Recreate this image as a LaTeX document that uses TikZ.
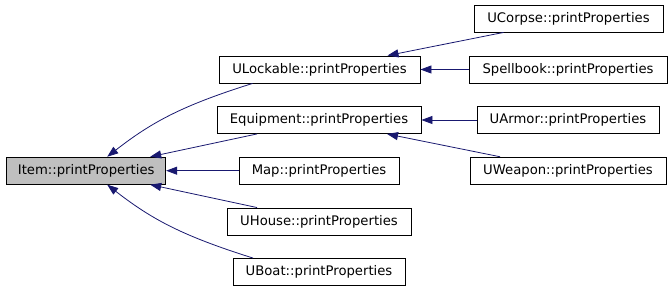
\documentclass[tikz,border=0pt]{standalone}
\usepackage{fontspec}
\setmainfont{DejaVu Sans}
\usetikzlibrary{arrows.meta}

\definecolor{edgeblue}{RGB}{25,25,112}

\begin{document}
\begin{tikzpicture}[
  x=1pt,y=-1pt,
  font=\fontsize{13.2}{15}\selectfont,
  >={Triangle[length=11pt,width=8pt]},
  func/.style={rectangle,draw=black,fill=white,line width=0.9pt,
    minimum height=27pt,inner sep=0pt,align=center},
  base/.style={func,fill=black!25},
  edge/.style={->,line width=0.8pt,edgeblue}
]
\useasboundingbox (0,0) rectangle (672,291);

% Base function
\node[base,minimum width=159pt] (item) at (86.2,170.7) {Item::printProperties};

% Direct overrides
\node[func,minimum width=201pt] (ulock) at (319.5,69.5) {ULockable::printProperties};
\node[func,minimum width=204pt] (equip) at (319,120) {Equipment::printProperties};
\node[func,minimum width=160pt] (map) at (319,170.7) {Map::printProperties};
\node[func,minimum width=184pt] (uhouse) at (319,221.5) {UHouse::printProperties};
\node[func,minimum width=172pt] (uboat) at (319,272) {UBoat::printProperties};

% Second level overrides
\node[func,minimum width=189pt] (ucorpse) at (568.5,18.5) {UCorpse::printProperties};
\node[func,minimum width=198pt] (spell) at (568,69.5) {Spellbook::printProperties};
\node[func,minimum width=182pt] (uarmor) at (568,120) {UArmor::printProperties};
\node[func,minimum width=196pt] (uweapon) at (568,170.7) {UWeapon::printProperties};

% Edges to base
\draw[edge] ([xshift=-67pt]ulock.south) .. controls +(-70,22) and +(45,-35) .. ([xshift=21pt]item.north);
\draw[edge] ([xshift=-62pt]equip.south) -- ([xshift=64pt]item.north);
\draw[edge] (map) -- (item);
\draw[edge] ([xshift=-62pt]uhouse.north) -- ([xshift=64pt]item.south);
\draw[edge] ([xshift=-66pt]uboat.north) .. controls +(-70,-22) and +(45,35) .. ([xshift=21pt]item.south);

% Edges to second level
\draw[edge] ([xshift=-65pt]ucorpse.south) -- ([xshift=68pt]ulock.north);
\draw[edge] (spell) -- (ulock);
\draw[edge] (uarmor) -- (equip);
\draw[edge] ([xshift=-68pt]uweapon.north) -- ([xshift=68pt]equip.south);

\end{tikzpicture}
\end{document}
